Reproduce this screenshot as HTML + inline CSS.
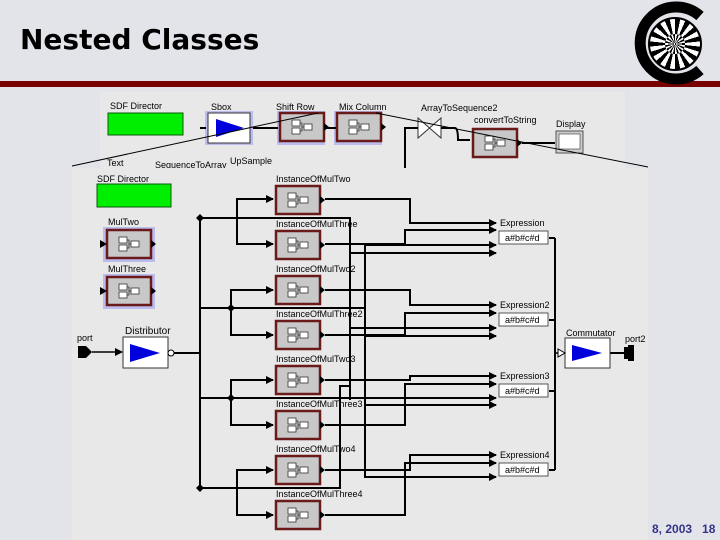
<!DOCTYPE html>
<html><head><meta charset="utf-8"><style>
html,body{margin:0;padding:0}
body{width:720px;height:540px;background:#e3e4ea;position:relative;overflow:hidden;font-family:"Liberation Sans",sans-serif}
.title{position:absolute;left:20px;top:23px;font-family:"DejaVu Sans",sans-serif;font-weight:bold;font-size:28px;letter-spacing:0px;color:#000}
.bar{position:absolute;left:0;top:81px;width:720px;height:6px;background:#780000}
.logo{position:absolute;left:648px;top:17px;width:50px;height:50px;border-radius:50%;background:repeating-conic-gradient(#000 0 12deg,#fff 0 24deg);border:2px solid #000}
.logo:after{content:"";position:absolute;left:15px;top:15px;width:20px;height:20px;border-radius:50%;background:repeating-conic-gradient(#fff 0 12deg,#000 0 24deg)}
.foot{position:absolute;left:652px;top:522px;font-size:12px;font-weight:bold;color:#333388;white-space:nowrap}
svg{position:absolute;left:0;top:0}
</style></head><body>
<div class="title">Nested Classes</div>
<div class="bar"></div>
<div class="logo"></div>
<svg width="720" height="90"><path d="M700 16 A36 36 0 1 0 700 70" fill="none" stroke="#000" stroke-width="11"/></svg>
<svg width="720" height="540" font-family="Liberation Sans, sans-serif" font-size="9">
<defs>
<marker id="a" markerWidth="8" markerHeight="8" refX="7" refY="4" orient="auto" markerUnits="userSpaceOnUse"><path d="M0 0L8 4L0 8Z" fill="#000"/></marker>
<g id="inst"><rect x="0" y="0" width="44" height="28" fill="#c8c8c8" stroke="#6b1a1a" stroke-width="2.5"/><rect x="12" y="7" width="8" height="6" fill="#fff" stroke="#333" stroke-width=".8"/><rect x="12" y="15" width="8" height="6" fill="#fff" stroke="#333" stroke-width=".8"/><rect x="24" y="11" width="8" height="6" fill="#fff" stroke="#333" stroke-width=".8"/><path d="M20 10H22V18H20M22 14H24" fill="none" stroke="#333" stroke-width=".8"/><path d="M44 10L49 14L44 18Z"/></g>
</defs>
<rect x="100" y="92" width="525" height="76" fill="#e8e8e8"/>
<text x="110" y="109">SDF Director</text>
<rect x="108" y="113" width="75" height="22" fill="#00ee00" stroke="#0a5a0a"/>
<text x="211" y="110">Sbox</text>
<rect x="205" y="111" width="48" height="34" fill="#bbbbee"/>
<rect x="208" y="113" width="42" height="30" fill="#fff" stroke="#333"/>
<path d="M216 119L244 128L216 137Z" fill="#0000dd"/>
<text x="276" y="110">Shift Row</text>
<rect x="277" y="111" width="48" height="34" fill="#bbbbee"/>
<use href="#inst" x="280" y="113"/>
<text x="339" y="110">Mix Column</text>
<rect x="334" y="111" width="48" height="34" fill="#bbbbee"/>
<use href="#inst" x="337" y="113"/>
<path d="M200 128H206M253 128H278M326 128H336" stroke="#000" stroke-width="2"/>
<text x="421" y="111">ArrayToSequence2</text>
<path d="M418 118V138L441 118V138Z" fill="#fff" stroke="#333"/>
<path d="M405 168V128H418M441 128H455Q458 128 458 140H470" fill="none" stroke="#000" stroke-width="2"/>
<text x="474" y="123">convertToString</text>
<use href="#inst" x="473" y="129"/>
<path d="M522 143H555" stroke="#000" stroke-width="2"/>
<text x="556" y="127">Display</text>
<rect x="556" y="131" width="27" height="22" fill="#ccc" stroke="#555"/><rect x="559" y="134" width="21" height="15" fill="#fff" stroke="#333" stroke-width=".6"/>
<text x="107" y="166">Text</text><text x="155" y="168">SequenceToArray</text><text x="230" y="164">UpSample</text>
<path d="M72 166L318 113M376 113L648 167" stroke="#000" stroke-width="1"/>
<rect x="72" y="168" width="576" height="372" fill="#e8e8e8"/>
<text x="97" y="182">SDF Director</text>
<rect x="97" y="184" width="74" height="23" fill="#00ee00" stroke="#0a5a0a"/>
<text x="108" y="225">MulTwo</text>
<rect x="103" y="227" width="52" height="35" fill="#bbbbee"/>
<use href="#inst" x="107" y="230"/><path d="M100 240L107 244L100 248Z"/>
<text x="108" y="272">MulThree</text>
<rect x="103" y="274" width="52" height="35" fill="#bbbbee"/>
<use href="#inst" x="107" y="277"/><path d="M100 287L107 291L100 295Z"/>
<text x="77" y="341">port</text>
<path d="M78 346H86L92 352L86 358H78Z"/>
<path d="M92 352H122" stroke="#000" stroke-width="1.5" marker-end="url(#a)"/>
<text x="125" y="334" font-size="10">Distributor</text>
<rect x="123" y="337" width="45" height="31" fill="#fff" stroke="#333"/>
<path d="M130 344L160 353L130 362Z" fill="#0000dd"/>
<circle cx="171" cy="353" r="3" fill="#fff" stroke="#000"/>
<g fill="none" stroke="#000" stroke-width="2">
<path d="M174 353H200M200 218V488"/>
<path d="M200 218H350V253H496" marker-end="url(#a)"/>
<path d="M237 218V244H273" marker-end="url(#a)"/><path d="M237 218V199H273" marker-end="url(#a)"/>
<path d="M200 308H365V336H496" marker-end="url(#a)"/>
<path d="M231 308V290H273" marker-end="url(#a)"/><path d="M231 308V335H273" marker-end="url(#a)"/>
<path d="M200 398H365V405H496" marker-end="url(#a)"/>
<path d="M231 398V380H273" marker-end="url(#a)"/><path d="M231 398V425H273" marker-end="url(#a)"/>
<path d="M200 488H340V386H350" />
<path d="M237 488V470H273" marker-end="url(#a)"/><path d="M237 488V515H273" marker-end="url(#a)"/>
<path d="M350 253V400M365 245V478"/>
<path d="M365 245H496" marker-end="url(#a)"/>
<path d="M350 328H496" marker-end="url(#a)"/>
<path d="M350 398H496" marker-end="url(#a)"/>
<path d="M365 477H496" marker-end="url(#a)"/>
<path d="M325 199H410V223H496" marker-end="url(#a)"/>
<path d="M325 244H405V230H496" marker-end="url(#a)"/>
<path d="M325 290H410V305H496" marker-end="url(#a)"/>
<path d="M325 335H405V313H496" marker-end="url(#a)"/>
<path d="M325 380H410V376H496" marker-end="url(#a)"/>
<path d="M325 425H405V384H496" marker-end="url(#a)"/>
<path d="M325 470H410V455H496" marker-end="url(#a)"/>
<path d="M325 515H405V463H496" marker-end="url(#a)"/>
<path d="M549 238H555M549 320H555M549 391H555M549 470H555M555 238V470"/>
<path d="M555 353H564" stroke-width="1.5"/>
<path d="M609 353H624"/>
</g>
<g font-size="9">
<text x="276" y="182">InstanceOfMulTwo</text><use href="#inst" x="276" y="186"/>
<text x="276" y="227">InstanceOfMulThree</text><use href="#inst" x="276" y="231"/>
<text x="276" y="272">InstanceOfMulTwo2</text><use href="#inst" x="276" y="276"/>
<text x="276" y="317">InstanceOfMulThree2</text><use href="#inst" x="276" y="321"/>
<text x="276" y="362">InstanceOfMulTwo3</text><use href="#inst" x="276" y="366"/>
<text x="276" y="407">InstanceOfMulThree3</text><use href="#inst" x="276" y="411"/>
<text x="276" y="452">InstanceOfMulTwo4</text><use href="#inst" x="276" y="456"/>
<text x="276" y="497">InstanceOfMulThree4</text><use href="#inst" x="276" y="501"/>
<text x="500" y="226">Expression</text><rect x="499" y="231" width="49" height="13" fill="#fff" stroke="#555"/><text x="505" y="241">a#b#c#d</text>
<text x="500" y="308">Expression2</text><rect x="499" y="313" width="49" height="13" fill="#fff" stroke="#555"/><text x="505" y="323">a#b#c#d</text>
<text x="500" y="379">Expression3</text><rect x="499" y="384" width="49" height="13" fill="#fff" stroke="#555"/><text x="505" y="394">a#b#c#d</text>
<text x="500" y="458">Expression4</text><rect x="499" y="463" width="49" height="13" fill="#fff" stroke="#555"/><text x="505" y="473">a#b#c#d</text>
<text x="566" y="336">Commutator</text>
<text x="625" y="342">port2</text>
</g>
<path d="M196 218L200 214L204 218L200 222Z M227 308L231 304L235 308L231 312Z M227 398L231 394L235 398L231 402Z M196 488L200 484L204 488L200 492Z"/>
<rect x="565" y="338" width="45" height="30" fill="#fff" stroke="#333"/>
<path d="M558 349L565 353L558 357Z" fill="#fff" stroke="#000"/>
<path d="M572 345L602 353L572 361Z" fill="#0000dd"/>
<path d="M624 347H630V359H624Z M628 345H634V361H628Z"/>
</svg>
<div class="foot">8, 2003&nbsp;&nbsp; 18</div>
</body></html>
